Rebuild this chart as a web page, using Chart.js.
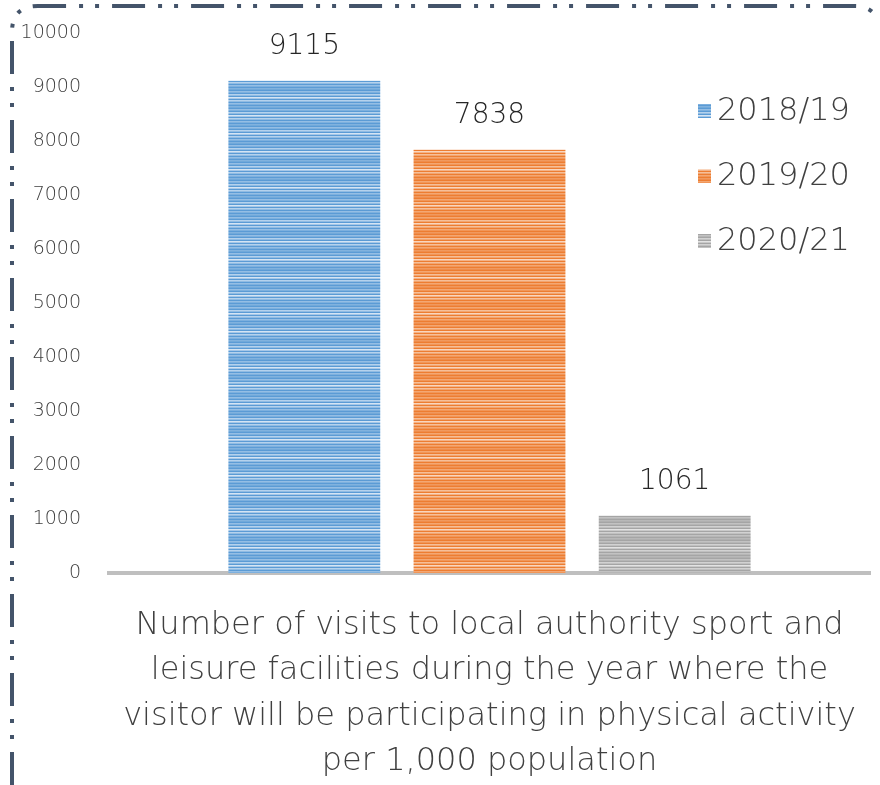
<!DOCTYPE html>
<html>
<head>
<meta charset="utf-8">
<script src="https://cdn.jsdelivr.net/npm/chart.js@4.4.1/dist/chart.umd.min.js"></script>
<style>
  html, body { margin: 0; padding: 0; background: #fff; }
  #wrap { position: relative; width: 880px; height: 785px; }
</style>
</head>
<body>
<div id="wrap"><canvas id="visitsChart" width="880" height="785"></canvas></div>
<script>
const categoryLabel = [
    'Number of visits to local authority sport and',
    'leisure facilities during the year where the',
    'visitor will be participating in physical activity',
    'per 1,000 population'
];
const seriesNames = ['2018/19', '2019/20', '2020/21'];
const seriesValues = [9115, 7838, 1061];
const baseColors = ['#5B9BD5', '#ED7D31', '#A5A5A5'];
const lightColors = ['#DCE9F6', '#FADBC6', '#E6E6E6'];
const yTicks = [0, 1000, 2000, 3000, 4000, 5000, 6000, 7000, 8000, 9000, 10000];

const FONT = "'DejaVu Sans', sans-serif";
const TEXT = '#404040';

// horizontal striped fill like the original
function stripes(base, light) {
    const c = document.createElement('canvas');
    c.width = 8; c.height = 18;
    const g = c.getContext('2d');
    g.fillStyle = base;
    g.fillRect(0, 0, 8, 18);
    const rows = [1, 4, 7, 10, 13, 16];
    const alpha = [0.45, 0.7, 0.95, 0.7, 0.45, 0.3];
    rows.forEach((r, i) => {
        g.globalAlpha = alpha[i];
        g.fillStyle = light;
        g.fillRect(0, r, 8, 1.6);
    });
    return g.createPattern(c, 'repeat');
}

const ctx = document.getElementById('visitsChart').getContext('2d');
const patterns = baseColors.map((b, i) => stripes(b, lightColors[i]));

const datasets = seriesNames.map((name, i) => ({
    label: name,
    data: [seriesValues[i]],
    backgroundColor: patterns[i],
    borderWidth: 0,
    categoryPercentage: 0.73,
    barPercentage: 0.82
}));

const frame = {
    id: 'frame',
    beforeDraw(chart) {
        const c = chart.ctx;
        c.save();
        c.strokeStyle = '#44546A';
        c.lineWidth = 4;
        c.setLineDash([33, 13, 4, 12, 4, 13]);
        c.beginPath();
        c.moveTo(12, 785);
        c.lineTo(12, 32);
        c.quadraticCurveTo(12, 6, 38, 6);
        c.lineTo(855, 6);
        c.quadraticCurveTo(872, 6, 878, 20);
        c.stroke();
        c.restore();
    }
};

const valueLabels = {
    id: 'valueLabels',
    afterDatasetsDraw(chart) {
        const c = chart.ctx;
        c.save();
        c.font = '300 28px ' + FONT;
        c.fillStyle = '#262626';
        c.textAlign = 'center';
        c.textBaseline = 'middle';
        chart.data.datasets.forEach((ds, i) => {
            const bar = chart.getDatasetMeta(i).data[0];
            c.fillText(String(ds.data[0]), bar.x, bar.y - 34);
        });
        c.restore();
    }
};

const sideLegend = {
    id: 'sideLegend',
    afterDraw(chart) {
        const c = chart.ctx;
        const x = chart.chartArea.right - 172;
        c.save();
        c.font = '300 32px ' + FONT;
        c.textBaseline = 'middle';
        chart.data.datasets.forEach((ds, i) => {
            const y = 111 + i * 65;
            c.fillStyle = ds.backgroundColor;
            c.fillRect(x, y - 7, 13, 14);
            c.fillStyle = TEXT;
            c.fillText(ds.label, x + 19, y + 1);
        });
        c.restore();
    }
};

new Chart(ctx, {
    type: 'bar',
    data: {
        labels: [categoryLabel],
        datasets: datasets
    },
    options: {
        responsive: false,
        animation: false,
        layout: { padding: { top: 33, right: 10, left: 0, bottom: 0 } },
        plugins: {
            legend: { display: false },
            tooltip: { enabled: false }
        },
        scales: {
            x: {
                grid: { display: false, drawTicks: false },
                border: { display: true, color: '#BFBFBF', width: 4 },
                ticks: {
                    color: TEXT,
                    font: { family: FONT, size: 32, weight: '300', lineHeight: 1.42 },
                    padding: 30,
                    maxRotation: 0
                },
                afterFit(scale) {
                    scale.height = 212;
                    scale.paddingLeft = 0;
                    scale.paddingRight = 0;
                    scale.paddingTop = 0;
                    scale.paddingBottom = 0;
                }
            },
            y: {
                min: 0,
                max: 10000,
                afterBuildTicks(scale) { scale.ticks = yTicks.map(v => ({ value: v })); },
                grid: { display: false, drawTicks: false },
                border: { display: false },
                ticks: {
                    color: TEXT,
                    font: { family: FONT, size: 19, weight: '300' },
                    padding: 28,
                    callback: v => String(v)
                },
                afterFit(scale) {
                    scale.width = 109;
                    scale.paddingTop = 0;
                    scale.paddingBottom = 0;
                }
            }
        }
    },
    plugins: [frame, valueLabels, sideLegend]
});
</script>
</body>
</html>
